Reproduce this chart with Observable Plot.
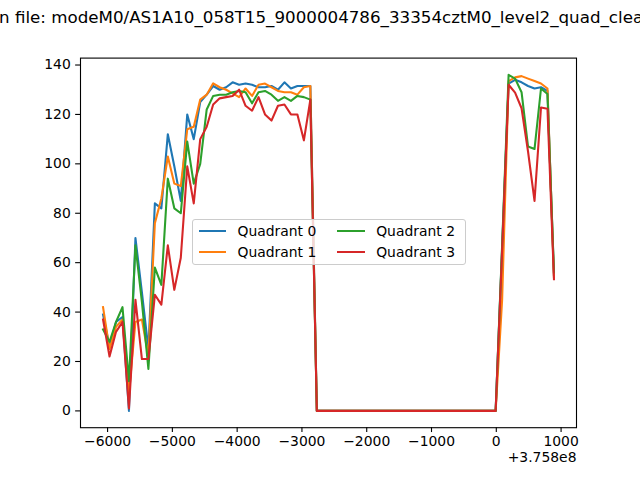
<!DOCTYPE html>
<html>
<head>
<meta charset="utf-8">
<script src="https://cdn.jsdelivr.net/npm/d3@7"></script>
<script src="https://cdn.jsdelivr.net/npm/@observablehq/plot@0.6"></script>
<style>
  body { margin: 0; background: #fff; font-family: "DejaVu Sans", sans-serif; }
  #wrap { position: relative; width: 640px; height: 480px; overflow: hidden; background: #fff; }
  #title { position: relative; width: 640px; height: 30px; overflow: hidden; }
  #title .t { position: absolute; left: -1px; top: 9px; font-size: 16.7px; line-height: 1; white-space: nowrap; color: #000; }
  #title .pre { position: absolute; right: 100%; top: 0; white-space: nowrap; }
  #legend { position: absolute; left: 192px; top: 219px; width: 274px; height: 46px; box-sizing: border-box;
            border: 1px solid #cccccc; border-radius: 3px; background: rgba(255,255,255,0.8); }
  .sw { position: absolute; height: 2.1px; width: 27.8px; }
  .lb { position: absolute; font-size: 13.9px; line-height: 16px; height: 16px; white-space: nowrap; color: #000; }
</style>
</head>
<body>
<div id="wrap">
  <div id="title"><span class="t"><span class="pre">Light curves i</span>n file: modeM0/AS1A10_058T15_9000004786_33354cztM0_level2_quad_clean.evt</span></div>
  <div id="chart"></div>
  <div id="legend"></div>
</div>
<script>
const quadrants = ["Quadrant 0", "Quadrant 1", "Quadrant 2", "Quadrant 3"];
const colors = ["#1f77b4", "#ff7f0e", "#2ca02c", "#d62728"];
const offsetLabel = "+3.758e8";
const xTicks = [-6000, -5000, -4000, -3000, -2000, -1000, 0, 1000];
const yTicks = [0, 20, 40, 60, 80, 100, 120, 140];

// time (s) relative to 3.758e8
const times = [
  -6070, -5970, -5870, -5770, -5670, -5570, -5470, -5370, -5270, -5170,
  -5070, -4970, -4870, -4770, -4670, -4570, -4470, -4370, -4270, -4170,
  -4070, -3970, -3870, -3770, -3670, -3570, -3470, -3370, -3270, -3170,
  -3070, -2970, -2870,
  -2770, -2670, -2570, -2470, -2370, -2270, -2170, -2070, -1970, -1870,
  -1770, -1670, -1570, -1470, -1370, -1270, -1170, -1070, -970, -870,
  -770, -670, -570, -470, -370, -270, -170, -70,
  -10, 90, 190, 290, 390, 490, 590, 690, 790, 890
];

const q0 = [
  39, 26, 36, 38, 0, 70, 48, 25, 84, 82,
  112, 99, 85, 120, 110, 125, 128, 131.5, 130, 131,
  133, 132, 132.5, 132, 131, 131, 131.5, 130, 133, 130.5,
  131.5, 131.5, 131.5,
  0, 0, 0, 0, 0, 0, 0, 0, 0, 0,
  0, 0, 0, 0, 0, 0, 0, 0, 0, 0,
  0, 0, 0, 0, 0, 0, 0, 0,
  0, 66, 132.5, 134, 133, 131.5, 130.5, 131, 129.5, 55
];
const q1 = [
  42, 25, 34, 37, 7, 36, 37, 22, 76, 86,
  103, 92, 91, 114, 115, 126, 128, 132.6, 131, 130,
  128.5, 127, 130.5, 127.5, 132, 132.5, 131, 129.5, 129, 129,
  128, 131, 131.5,
  0, 0, 0, 0, 0, 0, 0, 0, 0, 0,
  0, 0, 0, 0, 0, 0, 0, 0, 0, 0,
  0, 0, 0, 0, 0, 0, 0, 0,
  0, 45, 133.5, 135, 135.5, 134.5, 133.5, 132.5, 130.5, 54
];
const q2 = [
  33, 28, 36, 42, 12, 67, 44, 17, 58, 51,
  94, 82, 80, 109, 92, 100, 122, 127.5, 128, 128,
  129, 129.5, 129, 124.5, 129, 129.5, 128, 125.5, 127, 125.5,
  127.5, 127, 126,
  0, 0, 0, 0, 0, 0, 0, 0, 0, 0,
  0, 0, 0, 0, 0, 0, 0, 0, 0, 0,
  0, 0, 0, 0, 0, 0, 0, 0,
  0, 67, 136, 134.5, 129, 107, 106, 130.5, 128.3, 56
];
const q3 = [
  37, 22, 32, 36, 1, 45, 21, 21, 47, 43,
  67, 49, 62, 99, 84, 110, 115, 124, 126.5, 127,
  127.5, 130, 123.5, 121.5, 127, 120, 117.5, 123.5, 124, 120,
  120, 109.5, 126,
  0, 0, 0, 0, 0, 0, 0, 0, 0, 0,
  0, 0, 0, 0, 0, 0, 0, 0, 0, 0,
  0, 0, 0, 0, 0, 0, 0, 0,
  0, 65, 132, 128.8, 122.5, 105, 85, 122.8, 122.3, 53.3
];

const series = [q0, q1, q2, q3];
const data = quadrants.flatMap((q, i) => times.map((t, j) => ({t, v: series[i][j], q})));

const fmt = d => (d < 0 ? "\u2212" + (-d) : String(d));

const xMin = d3.min(times), xMax = d3.max(times);
const xPad = (xMax - xMin) * 0.05;
const yMin = d3.min(data, d => d.v), yMax = d3.max(data, d => d.v);
const yPad = (yMax - yMin) * 0.05;

const plot = Plot.plot({
  width: 640,
  height: 450,
  marginLeft: 80,
  marginRight: 64,
  marginTop: 27.6,
  marginBottom: 52.8,
  style: {fontFamily: "DejaVu Sans", fontSize: "13.9px", background: "white", color: "black", overflow: "visible"},
  x: {domain: [xMin - xPad, xMax + xPad]},
  y: {domain: [yMin - yPad, yMax + yPad]},
  color: {domain: quadrants, range: colors},
  marks: [
    Plot.line(data, {x: "t", y: "v", stroke: "q", strokeWidth: 2.08, strokeLinejoin: "round", strokeLinecap: "square"}),
    Plot.frame({stroke: "black", strokeWidth: 1.1}),
    Plot.axisX({ticks: xTicks, tickSize: 4.86, tickPadding: 4, tickFormat: fmt, label: null, strokeWidth: 1.1}),
    Plot.axisY({ticks: yTicks, tickSize: 4.86, tickPadding: 4.86, tickFormat: fmt, label: null, strokeWidth: 1.1}),
    Plot.text([offsetLabel], {frameAnchor: "bottom-right", text: d => d, textAnchor: "end", dy: 33.8})
  ]
});
document.getElementById("chart").appendChild(plot);

// legend (2 columns, centred in the axes)
const legend = document.getElementById("legend");
const colX = [5.6, 144.3];
const rowY = [12, 33];
quadrants.forEach((q, i) => {
  const col = Math.floor(i / 2), row = i % 2;
  const sw = document.createElement("div");
  sw.className = "sw";
  sw.style.left = colX[col] + "px";
  sw.style.top = (rowY[row] - 2) + "px";
  sw.style.background = colors[i];
  legend.appendChild(sw);
  const lb = document.createElement("div");
  lb.className = "lb";
  lb.style.left = (colX[col] + 27.8 + 11.1) + "px";
  lb.style.top = (rowY[row] - 9) + "px";
  lb.textContent = q;
  legend.appendChild(lb);
});
</script>
</body>
</html>
